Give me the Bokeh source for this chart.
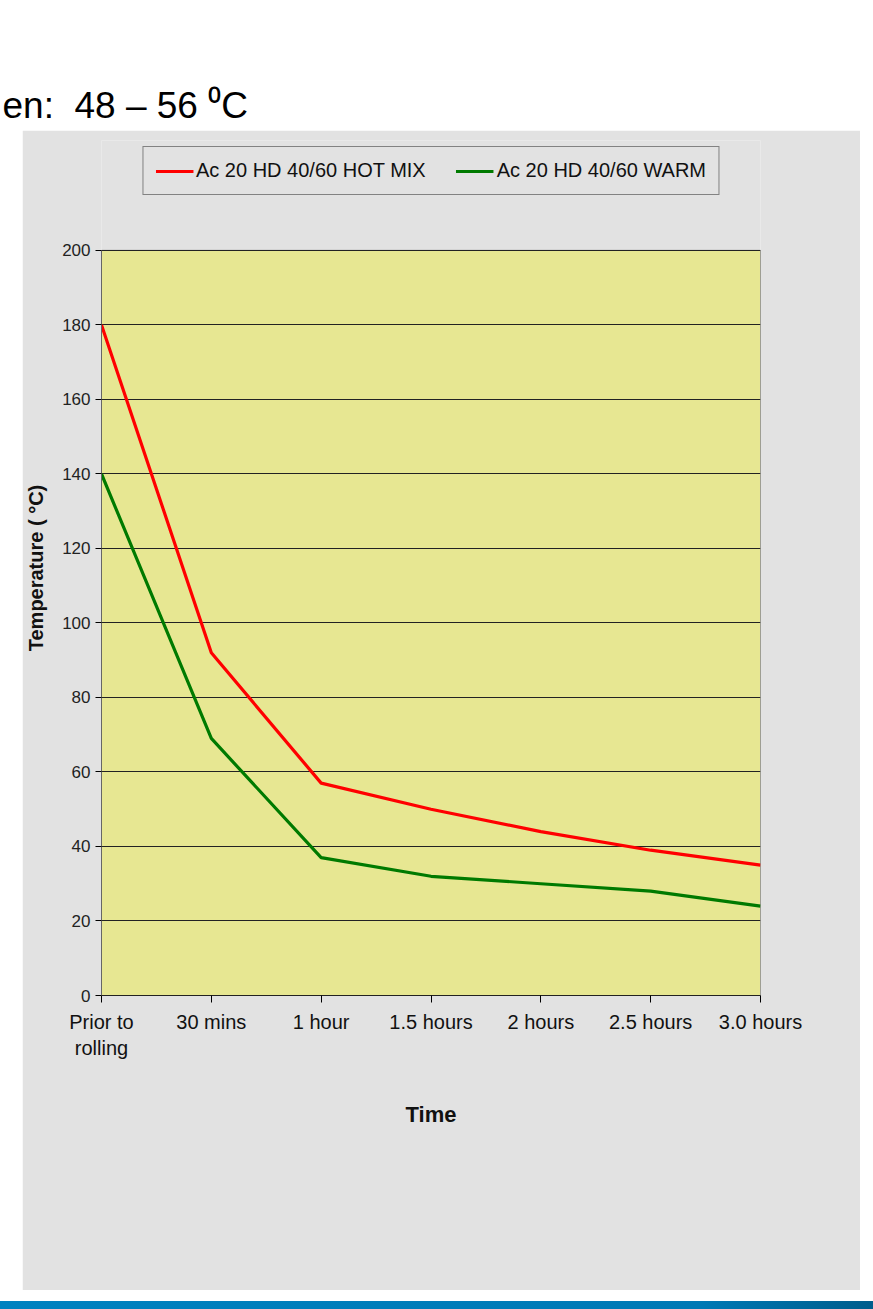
from bokeh.plotting import figure
from bokeh.models import Div, Spacer, Legend, LegendItem, FixedTicker, Range1d, Label
from bokeh.layouts import column, row
from bokeh.embed import file_html
from bokeh.resources import INLINE

# ---- data ----
categories = ["Prior to\nrolling", "30 mins", "1 hour", "1.5 hours", "2 hours", "2.5 hours", "3.0 hours"]
hot_mix = [180, 92, 57, 50, 44, 39, 35]
warm_mix = [140, 69, 37, 32, 30, 28, 24]
series_names = ["Ac 20 HD 40/60 HOT MIX", "Ac 20 HD 40/60 WARM"]
y_ticks = [0, 20, 40, 60, 80, 100, 120, 140, 160, 180, 200]
heading = "en:\u00a0 48 – 56 ⁰C"

NARROW = "Liberation Sans Narrow, Arial Narrow, Liberation Sans, Arial, sans-serif"
SANS = "Liberation Sans, Arial, sans-serif"
PANEL = "#e2e2e2"

xs = list(range(len(categories)))
y_min, y_max = y_ticks[0], y_ticks[-1]

# ---- heading strip ----
head = figure(width=873, height=130, output_backend="svg", toolbar_location=None,
              x_range=Range1d(0, 1), y_range=Range1d(0, 1),
              min_border=0, margin=0)
head.axis.visible = False
head.grid.grid_line_color = None
head.outline_line_color = None
head.border_fill_color = "white"
head.background_fill_color = "white"
head.add_layout(Label(x=2, y=46, x_units="screen", y_units="screen", text=heading,
                      text_font=SANS, text_font_size="37px", text_color="black",
                      text_baseline="top"))

# ---- chart (frame extends above 200 to hold the legend) ----
p = figure(width=838, height=1160,
           x_range=Range1d(0, len(categories) - 1), y_range=Range1d(y_min, 229.5),
           output_backend="svg", toolbar_location=None,
           min_border_left=78, min_border_right=100,
           min_border_top=10, min_border_bottom=295, margin=0)

p.border_fill_color = PANEL
p.background_fill_color = PANEL
p.outline_line_color = None

# plot area (drawn beneath the grid)
p.quad(left=[xs[0]], right=[xs[-1]], bottom=[y_min], top=[y_max],
       fill_color="#e7e792", line_color="#555555", line_width=1, level="image")

p.xgrid.grid_line_color = None
p.ygrid.ticker = FixedTicker(ticks=y_ticks)
p.ygrid.grid_line_color = "#222222"
p.ygrid.grid_line_width = 1
p.ygrid.bounds = (xs[0], xs[-1])

r_hot = p.line(xs, hot_mix, line_color="#ff0000", line_width=3.2)
r_warm = p.line(xs, warm_mix, line_color="#007a00", line_width=3.2)

# axes
p.xaxis.ticker = FixedTicker(ticks=xs)
p.xaxis.major_label_overrides = {i: c for i, c in enumerate(categories)}
p.xaxis.major_tick_out = 7
p.xaxis.major_tick_in = 0
p.xaxis.minor_tick_line_color = None
p.xaxis.axis_line_color = "#222222"
p.xaxis.major_label_text_font = NARROW
p.xaxis.major_label_text_font_size = "20px"
p.xaxis.major_label_text_color = "#111111"
p.xaxis.major_label_standoff = 8
p.xaxis.axis_label = "Time"
p.xaxis.axis_label_text_font = SANS
p.xaxis.axis_label_text_font_style = "bold"
p.xaxis.axis_label_text_font_size = "22px"
p.xaxis.axis_label_text_color = "#111111"
p.xaxis.axis_label_standoff = 40

p.yaxis.bounds = (y_min, y_max)
p.yaxis.ticker = FixedTicker(ticks=y_ticks)
p.yaxis.major_tick_out = 6
p.yaxis.major_tick_in = 0
p.yaxis.minor_tick_line_color = None
p.yaxis.axis_line_color = "#666666"
p.yaxis.major_label_text_font = NARROW
p.yaxis.major_label_text_font_size = "17px"
p.yaxis.major_label_text_color = "#222222"
p.yaxis.axis_label = "Temperature ( °C)"
p.yaxis.axis_label_text_font = SANS
p.yaxis.axis_label_text_font_style = "bold"
p.yaxis.axis_label_text_font_size = "20px"
p.yaxis.axis_label_text_color = "#111111"
p.yaxis.axis_label_standoff = 12

legend = Legend(items=[LegendItem(label=series_names[0], renderers=[r_hot]),
                       LegendItem(label=series_names[1], renderers=[r_warm])],
                orientation="horizontal", location="top_center",
                label_text_font=NARROW, label_text_font_size="20px",
                label_text_color="#111111",
                glyph_width=38, label_standoff=3, spacing=30, padding=12, margin=6,
                border_line_color="#222222", border_line_width=1,
                background_fill_color=PANEL, background_fill_alpha=1)
p.add_layout(legend, "center")

bar = Div(text="", width=873, height=8, margin=0,
          styles={"background": "linear-gradient(to right, #0082c0, #0079b5 80%, #005d8c)"})

layout = column(head,
                row(Spacer(width=22, margin=0), p, Spacer(width=13, margin=0), margin=0),
                Spacer(height=11, margin=0),
                bar, margin=0)

with open("out.html", "w") as f:
    f.write(file_html(layout, INLINE))
